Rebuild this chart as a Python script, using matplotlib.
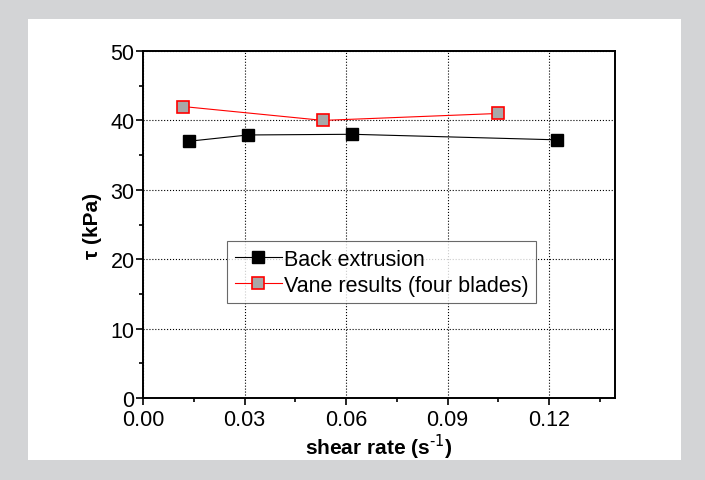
import matplotlib.pyplot as plt
from matplotlib.patches import Rectangle

plt.rcParams['font.family'] = ['Liberation Sans', 'DejaVu Sans']
plt.rcParams['axes.unicode_minus'] = False

back_x = [0.0136, 0.0310, 0.0618, 0.1224]
back_y = [37.0, 37.9, 38.0, 37.2]
vane_x = [0.0118, 0.0532, 0.1050]
vane_y = [42.0, 40.0, 41.0]

xticks = [0.00, 0.03, 0.06, 0.09, 0.12]
yticks = [0, 10, 20, 30, 40, 50]

fig = plt.figure(figsize=(7.05, 4.81), dpi=100)
fig.patch.set_facecolor('#d3d4d6')
fig.add_artist(Rectangle((28/705, 1-461/481), 653/705, 441/481,
                         transform=fig.transFigure, facecolor='white',
                         edgecolor='none', zorder=-5))

ax = fig.add_axes([143/705, 1-399/481, 472/705, 347/481])
ax.set_zorder(2)
ax.plot(back_x, back_y, color='black', linewidth=0.8, marker='s', ms=8,
        mfc='black', mec='black', label='Back extrusion')
ax.plot(vane_x, vane_y, color='red', linewidth=0.8, marker='s', ms=8,
        mfc='#a8a8a8', mec='red', mew=1.2, label='Vane results (four blades)')

ax.set_xlim(0, 0.1395)
ax.set_ylim(0, 50)
ax.set_xticks(xticks)
ax.set_xticklabels(['%.2f' % v for v in xticks])
ax.set_yticks(yticks)
ax.set_xticks([0.015, 0.045, 0.075, 0.105, 0.135], minor=True)
ax.set_yticks([5, 15, 25, 35, 45], minor=True)
ax.tick_params(which='major', direction='out', length=5, width=1.2, labelsize=15.5, pad=1)
ax.tick_params(axis='x', which='major', pad=3)
ax.tick_params(which='minor', direction='out', length=3, width=1.2)
ax.grid(which='major', linestyle=':', color='black', linewidth=0.8)
for s in ax.spines.values():
    s.set_linewidth(1.4)

ax.set_xlabel('shear rate (s$^{\\text{-1}}$)', fontsize=15, fontweight='bold', labelpad=1)
ax.set_ylabel('τ (kPa)', fontsize=15, fontweight='bold', labelpad=6)

leg = ax.legend(loc='upper left', bbox_to_anchor=(84/472, (399-242)/347),
                borderaxespad=0, fontsize=15.5, frameon=True, fancybox=False,
                edgecolor='#444444', handlelength=2.2, borderpad=0.35,
                labelspacing=0.25, handletextpad=0.1)
leg.get_frame().set_linewidth(0.8)

fig.savefig('out.png', dpi=100, facecolor=fig.get_facecolor())
